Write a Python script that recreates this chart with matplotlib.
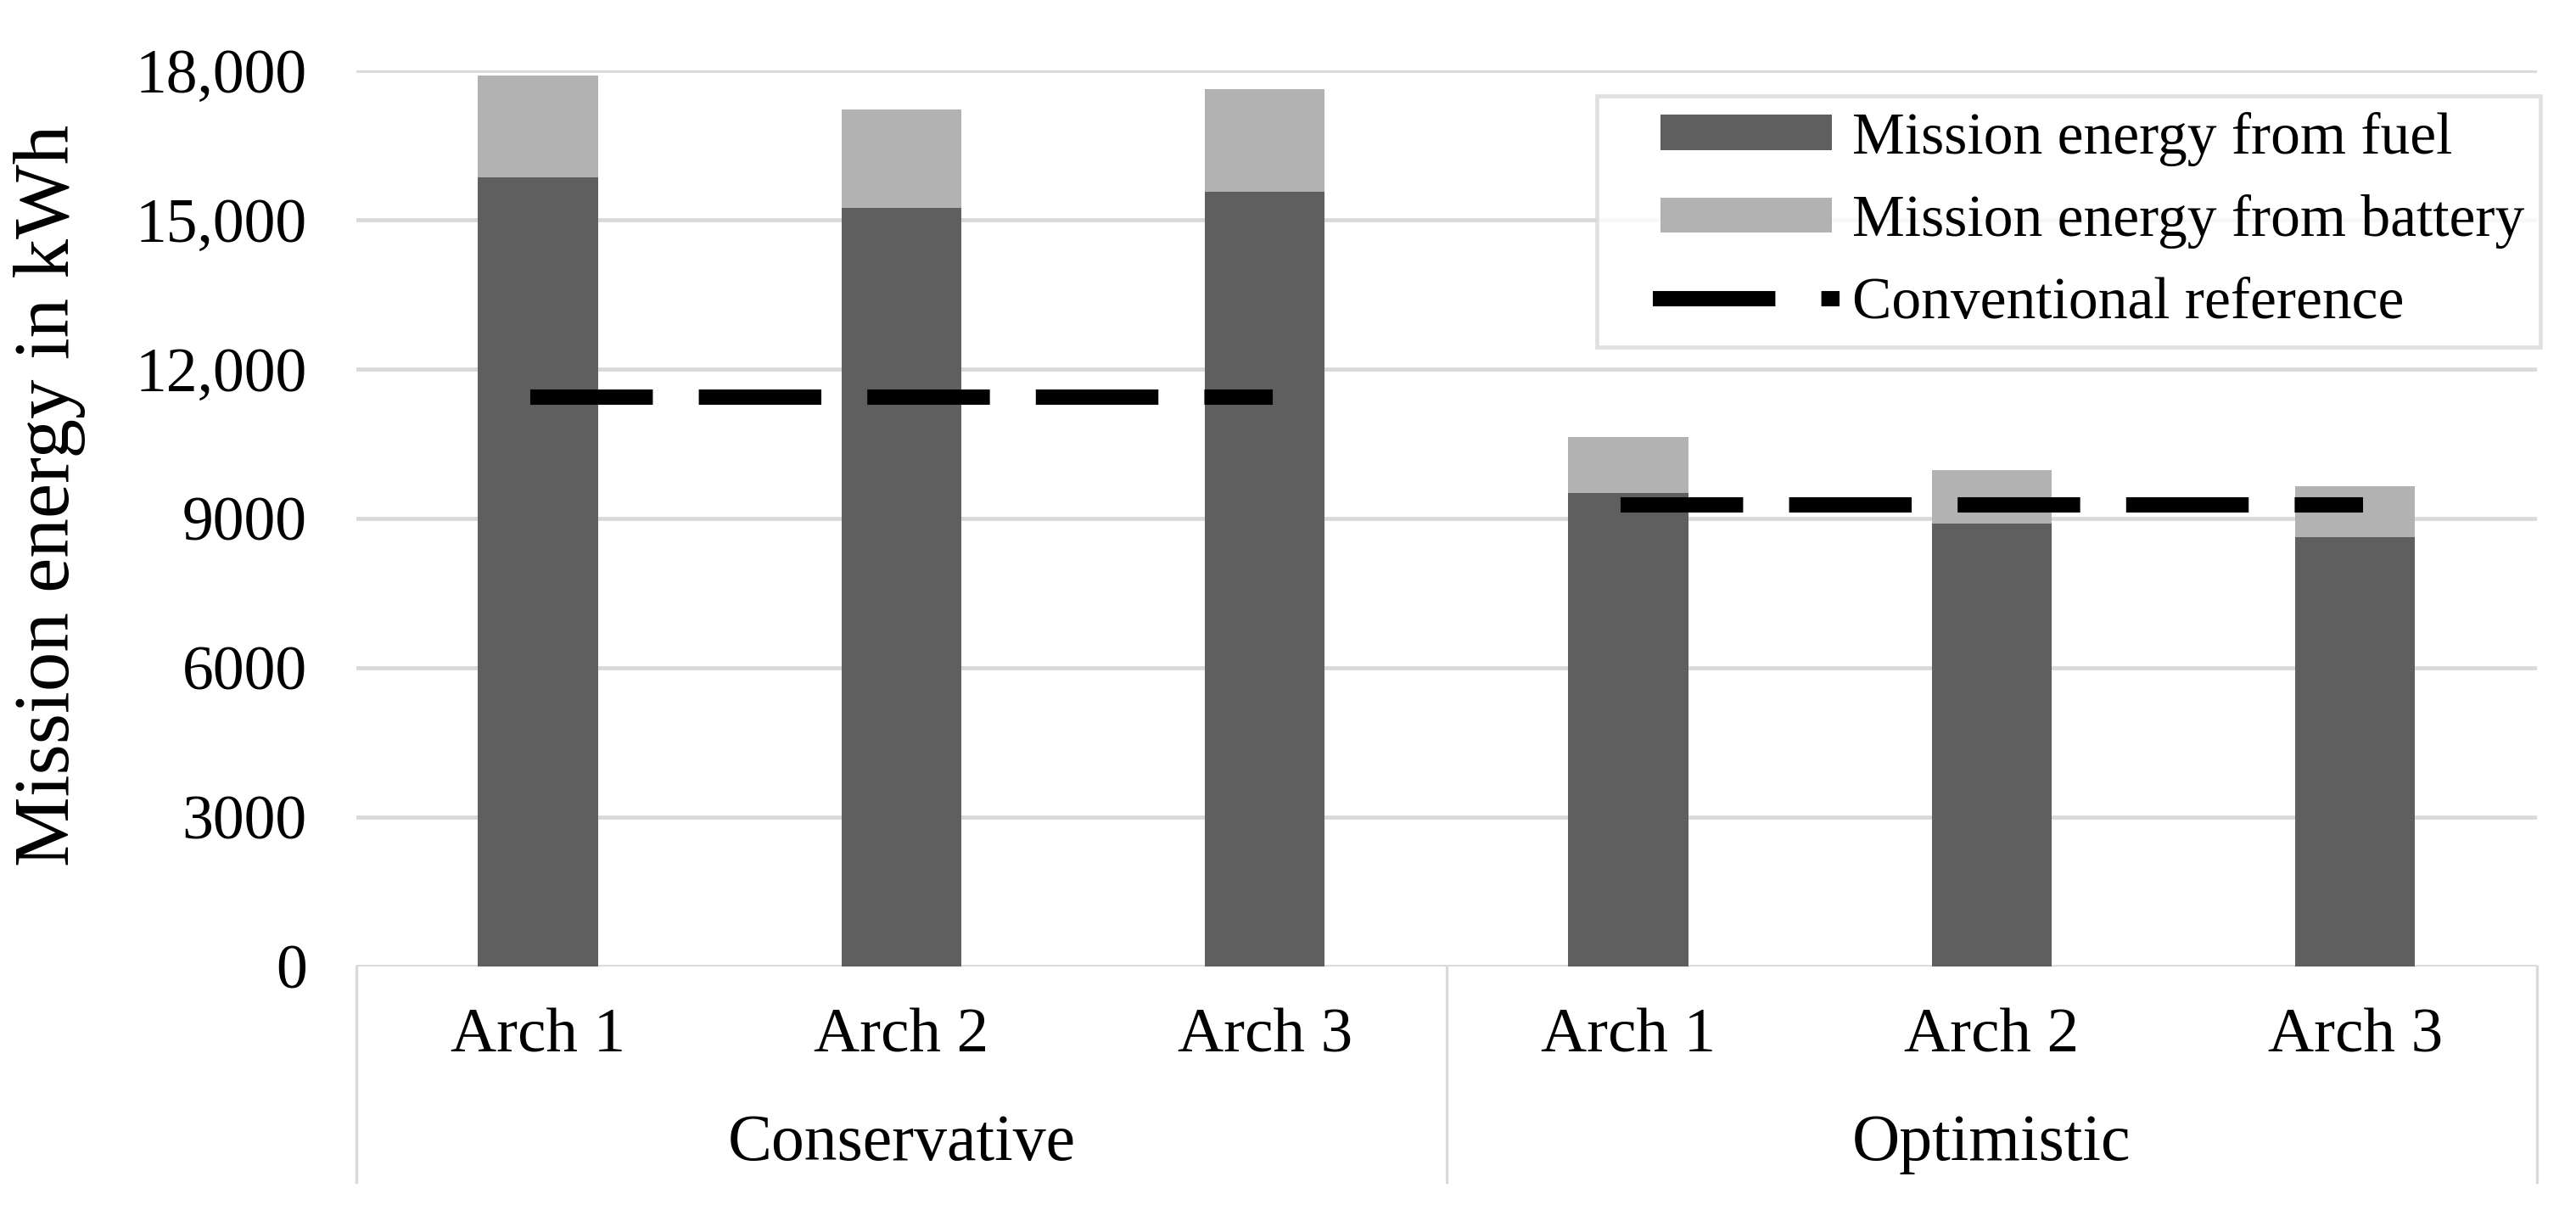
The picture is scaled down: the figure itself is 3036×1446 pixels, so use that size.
import numpy as np
import matplotlib
matplotlib.use('Agg')
import matplotlib.pyplot as plt
from matplotlib.legend_handler import HandlerPatch, HandlerLine2D
from matplotlib.patches import Rectangle
from matplotlib.lines import Line2D

plt.rcParams['font.family'] = ['Liberation Serif', 'DejaVu Serif']

# data
arch_labels = ['Arch 1', 'Arch 2', 'Arch 3', 'Arch 1', 'Arch 2', 'Arch 3']
groups = ['Conservative', 'Optimistic']
fuel = [15860, 15240, 15570, 9510, 8900, 8630]
battery = [2040, 1990, 2060, 1130, 1070, 1030]
ref_conservative = [11450, 11450, 11450]
ref_optimistic = [9270, 9270, 9270]
yticks = [0, 3000, 6000, 9000, 12000, 15000, 18000]
ytick_labels = ['0', '3000', '6000', '9000', '12,000', '15,000', '18,000']

fuel_color = '#5f5f5f'
battery_color = '#b2b2b2'
grid_color = '#d9d9d9'
fs = 27

fig = plt.figure(figsize=(15.18, 7.23), dpi=200)
ax = fig.add_axes([0.1383, 0.2123, 0.8465, 0.7300])

x = np.arange(len(arch_labels))
b1 = ax.bar(x, fuel, width=0.33, color=fuel_color, zorder=2)
b2 = ax.bar(x, battery, width=0.33, bottom=fuel, color=battery_color, zorder=2)
l1, = ax.plot(x[:3], ref_conservative, color='black', lw=6.5, dashes=(7, 4),
              dash_capstyle='projecting', zorder=3)
ax.plot(x[3:], ref_optimistic, color='black', lw=6.5, dashes=(7, 4),
        dash_capstyle='projecting', zorder=3)

ax.set_xlim(-0.5, 5.5)
ax.set_ylim(0, 18000)
ax.set_yticks(yticks)
ax.set_yticklabels(ytick_labels, fontsize=26.5)
ax.set_xticks(x)
ax.set_xticklabels(arch_labels, fontsize=fs)
ax.tick_params(axis='both', length=0)
ax.tick_params(axis='y', pad=21)
ax.tick_params(axis='x', pad=17.5)
for s in ax.spines.values():
    s.set_visible(False)
ax.set_axisbelow(True)
ax.yaxis.grid(True, color=grid_color, lw=1.7)

# multi-level category axis
for xv in [-0.5, 2.5, 5.5]:
    ax.axvline(xv, ymin=-0.241, ymax=0, color=grid_color, lw=1.2, clip_on=False)
for i, g in enumerate(groups):
    ax.text(1 + 3 * i, -0.198, g, fontsize=28, ha='center', va='center',
            transform=ax.get_xaxis_transform())

ax.set_ylabel('Mission energy in kWh', fontsize=33.5)
ax.yaxis.set_label_coords(-0.124, 0.526)

leg = ax.legend([b1[0], b2[0], l1],
                ['Mission energy from fuel', 'Mission energy from battery',
                 'Conventional reference'],
                loc='upper right', bbox_to_anchor=(0.9862, 0.9219),
                bbox_transform=fig.transFigure, fontsize=25, frameon=True,
                fancybox=False, borderaxespad=0, handlelength=3.72,
                handleheight=0.55, handletextpad=0.34, labelspacing=0.48,
                borderpad=0.27,
                handler_map={Rectangle: HandlerPatch(xpad=0.8),
                             Line2D: HandlerLine2D(xpad=0.8, marker_pad=0)})
leg.get_frame().set_edgecolor(grid_color)
leg.get_frame().set_linewidth(1.7)

fig.savefig('out.png', dpi=200)
